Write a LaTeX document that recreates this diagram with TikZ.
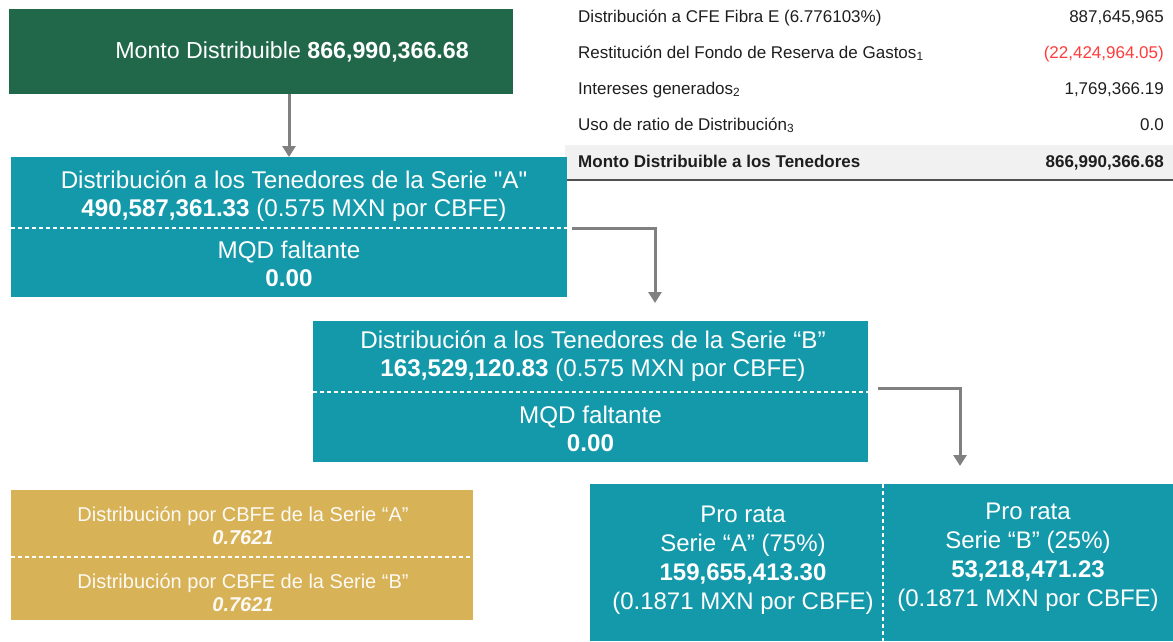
\documentclass[tikz,border=0pt]{standalone}
\usepackage{fontspec}
\setmainfont{Liberation Sans}
\usetikzlibrary{arrows.meta}
\definecolor{fgreen}{HTML}{21684A}
\definecolor{fteal}{HTML}{1499AB}
\definecolor{fgold}{HTML}{D7B257}
\definecolor{fgray}{HTML}{808080}
\definecolor{rowgray}{HTML}{F1F1F1}
\definecolor{lineg}{HTML}{505050}
\definecolor{fred}{HTML}{FF3B3B}
\definecolor{ftext}{HTML}{1E1E1E}
\begin{document}
\begin{tikzpicture}[x=1pt,y=-1pt,
  box/.style={draw=none,inner sep=0pt,outer sep=0pt,anchor=north west},
  wtxt/.style={text=white,align=center,inner sep=0pt,font=\fontsize{24.2}{28}\selectfont},
  gtxt/.style={text=white!94!fgold,align=center,inner sep=0pt,font=\fontsize{20}{23}\selectfont},
  ptxt/.style={text=white,align=center,inner sep=0pt,font=\fontsize{24}{29}\selectfont},
  tl/.style={anchor=west,inner sep=0pt,text=ftext,text height=12pt,text depth=3.5pt,font=\fontsize{17}{20}\selectfont},
  tr/.style={anchor=east,inner sep=0pt,text=ftext,text height=12pt,text depth=3.5pt,font=\fontsize{17}{20}\selectfont},
  sep/.style={white,line width=1.5pt,dash pattern=on 4pt off 3pt},
  conn/.style={fgray,line width=3pt,-{Triangle[width=13pt,length=11pt]}}]
\useasboundingbox (0,0) rectangle (1173,641);
% table
\fill[rowgray] (565,145) rectangle (1173,180);
\draw[lineg,line width=2pt] (565,180) -- (1173,180);
\node[tl] (r1l) at (578,18) {Distribución a CFE Fibra E (6.776103\%)};
\node[tr] (r1r) at (1164,18) {887,645,965};
\node[tl] (r2l) at (578,54) {Restitución del Fondo de Reserva de Gastos\textsubscript{1}};
\node[tr,text=fred] (r2r) at (1164,54) {(22,424,964.05)};
\node[tl] (r3l) at (578,90) {Intereses generados\textsubscript{2}};
\node[tr] (r3r) at (1164,90) {1,769,366.19};
\node[tl] (r4l) at (578,126) {Uso de ratio de Distribución\textsubscript{3}};
\node[tr] (r4r) at (1164,126) {0.0};
\node[tl,font=\fontsize{17}{20}\selectfont\bfseries] (r5l) at (578,163) {Monto Distribuible a los Tenedores};
\node[tr,font=\fontsize{17}{20}\selectfont\bfseries] (r5r) at (1164,163) {866,990,366.68};
% green box
\node[box,fill=fgreen,minimum width=504pt,minimum height=85pt] (mon) at (9,9) {};
\node[wtxt,font=\fontsize{23.2}{28}\selectfont] (mont) at (292,52) {Monto Distribuible \textbf{866,990,366.68}};
% serie A
\node[box,fill=fteal,minimum width=556pt,minimum height=140pt] (serA) at (11,157) {};
\draw[sep] (11,228) -- (567,228);
\node[wtxt] (serAt) at (294,196) {Distribución a los Tenedores de la Serie \textquotedbl A\textquotedbl\\\textbf{490,587,361.33} (0.575 MXN por CBFE)};
\node[wtxt] (serAb) at (289,264) {MQD faltante\\\textbf{0.00}};
% serie B
\node[box,fill=fteal,minimum width=555pt,minimum height=141pt] (serB) at (313,321) {};
\draw[sep] (313,392) -- (868,392);
\node[wtxt] (serBt) at (593,356) {Distribución a los Tenedores de la Serie “B”\\\textbf{163,529,120.83} (0.575 MXN por CBFE)};
\node[wtxt] (serBb) at (590.5,429) {MQD faltante\\\textbf{0.00}};
% gold
\node[box,fill=fgold,minimum width=462pt,minimum height=130pt] (gold) at (11,490) {};
\draw[sep] (11,557) -- (473,557);
\node[gtxt] (goldt) at (243,525.5) {Distribución por CBFE de la Serie “A”\\\textbf{\itshape 0.7621}};
\node[gtxt] (goldb) at (243,592.5) {Distribución por CBFE de la Serie “B”\\\textbf{\itshape 0.7621}};
% pro rata
\node[box,fill=fteal,minimum width=583pt,minimum height=157pt] (pro) at (590,484) {};
\draw[sep] (883,484) -- (883,641);
\node[ptxt] (proA) at (743,560) {Pro rata\\Serie “A” (75\%)\\\textbf{159,655,413.30}\\(0.1871 MXN por CBFE)};
\node[ptxt] (proB) at (1028,557) {Pro rata\\Serie “B” (25\%)\\\textbf{53,218,471.23}\\(0.1871 MXN por CBFE)};
% connectors
\draw[conn] (mon.south -| serA.north) -- (serA.north);
\coordinate (a1) at (572,228);
\coordinate (a2) at (655,303);
\draw[conn] (a1) -| (a2);
\coordinate (b1) at (878,388);
\coordinate (b2) at (960,466);
\draw[conn] (b1) -| (b2);
\end{tikzpicture}
\end{document}
